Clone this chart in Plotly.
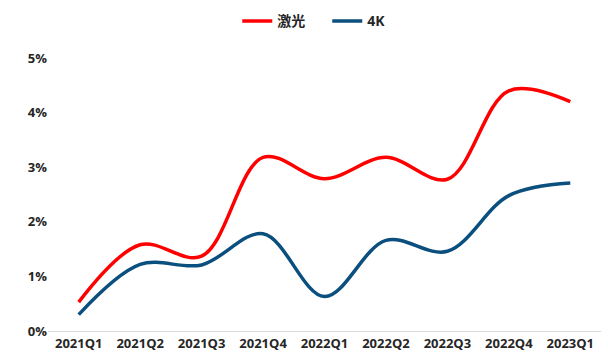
import plotly.graph_objects as go

categories = ["2021Q1", "2021Q2", "2021Q3", "2021Q4", "2022Q1", "2022Q2", "2022Q3", "2022Q4", "2023Q1"]
laser = [0.53, 1.58, 1.37, 3.18, 2.79, 3.18, 2.78, 4.40, 4.20]
k4 = [0.30, 1.22, 1.21, 1.78, 0.63, 1.66, 1.46, 2.48, 2.71]
y_ticks = [0, 1, 2, 3, 4, 5]
y_tick_text = ["0%", "1%", "2%", "3%", "4%", "5%"]

fig = go.Figure()
fig.add_trace(go.Scatter(x=categories, y=laser, name="激光", mode="lines",
                         line=dict(color="#FF0000", width=3.5, shape="spline", smoothing=1.0)))
fig.add_trace(go.Scatter(x=categories, y=k4, name="4K", mode="lines",
                         line=dict(color="#0B4F7E", width=3.5, shape="spline", smoothing=1.0)))

font_family = "Open Sans, Liberation Sans, Noto Sans CJK SC, sans-serif"
fig.update_layout(
    width=608, height=356,
    margin=dict(l=48, r=7, t=58, b=25),
    paper_bgcolor="white", plot_bgcolor="white",
    font=dict(family=font_family, size=13, color="#262626"),
    legend=dict(orientation="h", x=0.505, xanchor="center", y=0.985, yanchor="top",
                yref="container", font=dict(size=14, color="#262626", weight="bold"),
                traceorder="normal", entrywidth=45),
    showlegend=True,
)
fig.update_xaxes(type="category", range=[-0.5, 8.5], showline=True, linecolor="#D9D9D9",
                 linewidth=1, showgrid=False, ticks="", zeroline=False, automargin=False,
                 tickfont=dict(size=13, color="#262626", weight="bold"))
fig.update_yaxes(range=[0, 5], tickvals=y_ticks, ticktext=y_tick_text, showgrid=False,
                 zeroline=False, showline=False, ticks="", automargin=False,
                 tickfont=dict(size=13, color="#262626", weight="bold"))
fig.write_html("out.html")
